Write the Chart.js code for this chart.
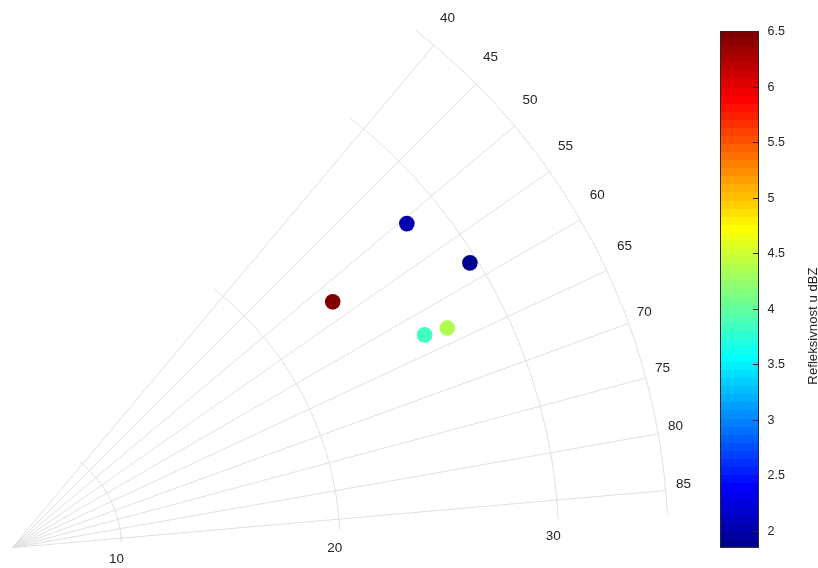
<!DOCTYPE html>
<html>
<head>
<meta charset="utf-8">
<script src="https://cdn.jsdelivr.net/npm/chart.js@4.4.1/dist/chart.umd.min.js"></script>
<style>
  html, body { margin: 0; padding: 0; background: #fff; }
  #wrap { position: relative; width: 818px; height: 568px; overflow: hidden; }
  canvas { position: absolute; top: 0; }
  #polar { left: 0; }
  #cbar { left: 700px; }
</style>
</head>
<body>
<div id="wrap">
  <canvas id="polar" width="818" height="568"></canvas>
  <canvas id="cbar" width="118" height="568"></canvas>
</div>
<script>
// Measured points: angle in degrees (clockwise from top), range, reflectivity
const pointTheta = [50.6, 58.1, 52.5, 62.7, 63.2];
const pointRange = [28.35, 29.65, 23.47, 26.22, 27.29];
const pointDbz = [2.03, 1.85, 6.5, 3.85, 4.35];

const thetaLim = [38, 87];
const thetaTicks = [40, 45, 50, 55, 60, 65, 70, 75, 80, 85];
const rangeLim = [5, 35];
const rangeTicks = [10, 20, 30];
const colorLim = [1.85, 6.5];
const colorTicks = [2, 2.5, 3, 3.5, 4, 4.5, 5, 5.5, 6, 6.5];
const colorbarLabel = 'Refleksivnost u dBZ';

const FONT = "'Liberation Sans', Arial, Helvetica, sans-serif";
const TEXT = '#262626';
const GRID = '#dfdfdf';

// polar axes placement on the page
const ORIGIN_X = 12.3;
const ORIGIN_Y = 547.7;
const PX_PER_UNIT = 656 / (rangeLim[1] - rangeLim[0]);
const W = 818, H = 568;

// MATLAB style jet(m)
const MAP_SIZE = 64;
function jetRgb(i, m) {
  const n = Math.ceil(m / 4);
  const u = [];
  for (let k = 1; k <= n; k++) u.push(k / n);
  for (let k = 1; k < n; k++) u.push(1);
  for (let k = n; k >= 1; k--) u.push(k / n);
  const off = Math.ceil(n / 2) - (m % 4 === 1 ? 1 : 0);
  const at = p => (p >= 1 && p <= u.length) ? u[p - 1] : 0;
  const idx = i + 1;
  return [at(idx - off - n), at(idx - off), at(idx - off + n)].map(c => Math.round(c * 255));
}
function jetCss(i) {
  const c = jetRgb(i, MAP_SIZE);
  return 'rgb(' + c[0] + ',' + c[1] + ',' + c[2] + ')';
}
function colorFor(v) {
  let i = Math.floor((v - colorLim[0]) / (colorLim[1] - colorLim[0]) * MAP_SIZE);
  i = Math.max(0, Math.min(MAP_SIZE - 1, i));
  return jetCss(i);
}

const toRad = t => (t - 90) * Math.PI / 180;

const polarGrid = {
  id: 'polarGrid',
  beforeDatasetsDraw(chart) {
    const ctx = chart.ctx;
    const xs = chart.scales.x, ys = chart.scales.y;
    const cx = xs.getPixelForValue(0), cy = ys.getPixelForValue(0);
    const rad = r => xs.getPixelForValue(r - rangeLim[0]) - cx;
    const outer = rad(rangeLim[1]);

    ctx.save();
    ctx.strokeStyle = GRID;
    ctx.lineWidth = 1;
    rangeTicks.concat([rangeLim[1]]).forEach(r => {
      ctx.beginPath();
      ctx.arc(cx, cy, rad(r), toRad(thetaLim[0]), toRad(thetaLim[1]));
      ctx.stroke();
    });
    thetaTicks.forEach(t => {
      ctx.beginPath();
      ctx.moveTo(cx, cy);
      ctx.lineTo(cx + outer * Math.cos(toRad(t)), cy + outer * Math.sin(toRad(t)));
      ctx.stroke();
    });

    ctx.fillStyle = TEXT;
    ctx.font = '13.5px ' + FONT;
    ctx.textAlign = 'center';
    ctx.textBaseline = 'middle';
    thetaTicks.forEach(t => {
      // upper labels sit a bit further out than the near-horizontal ones
      const upper = t <= 65;
      const a = toRad(t + (upper ? -(0.6 + (t - 40) * 0.024) : -0.4));
      const d = outer + (upper ? 29.5 - (t - 40) * 0.13 : 18.3);
      ctx.fillText(String(t), cx + d * Math.cos(a), cy + d * Math.sin(a));
    });
    rangeTicks.forEach(r => {
      const a = toRad(thetaLim[1]);
      const d = rad(r);
      ctx.fillText(String(r), cx + d * Math.cos(a) - 5, cy + d * Math.sin(a) + 17.3);
    });
    ctx.restore();
  }
};

new Chart(document.getElementById('polar'), {
  type: 'scatter',
  data: {
    datasets: [{
      data: pointTheta.map((t, i) => ({
        x: (pointRange[i] - rangeLim[0]) * Math.sin(t * Math.PI / 180),
        y: (pointRange[i] - rangeLim[0]) * Math.cos(t * Math.PI / 180),
      })),
      pointBackgroundColor: pointDbz.map(colorFor),
      pointBorderWidth: 0,
      pointRadius: 7.8,
      pointHoverRadius: 7.8,
      clip: false,
    }],
  },
  options: {
    responsive: false,
    animation: false,
    devicePixelRatio: 1,
    events: [],
    layout: { padding: 0, autoPadding: false },
    plugins: { legend: { display: false }, tooltip: { enabled: false } },
    scales: {
      x: { type: 'linear', display: false, min: -ORIGIN_X / PX_PER_UNIT, max: (W - ORIGIN_X) / PX_PER_UNIT },
      y: { type: 'linear', display: false, min: -(H - ORIGIN_Y) / PX_PER_UNIT, max: ORIGIN_Y / PX_PER_UNIT },
    },
  },
  plugins: [polarGrid],
});

// colorbar
const colorbarDecor = {
  id: 'colorbarDecor',
  afterDraw(chart) {
    const ctx = chart.ctx;
    const a = chart.chartArea;
    const ys = chart.scales.y;
    ctx.save();
    ctx.strokeStyle = TEXT;
    ctx.lineWidth = 1;
    ctx.strokeRect(a.left + 0.5, a.top + 0.5, a.right - a.left - 1, a.bottom - a.top - 1);
    ctx.fillStyle = TEXT;
    ctx.font = '12.5px ' + FONT;
    ctx.textAlign = 'left';
    ctx.textBaseline = 'middle';
    colorTicks.forEach(v => {
      const y = Math.round(ys.getPixelForValue(v)) + 0.5;
      ctx.beginPath();
      ctx.moveTo(a.right - 6, y);
      ctx.lineTo(a.right, y);
      ctx.stroke();
      ctx.fillText(String(v), a.right + 8.5, y);
    });
    ctx.translate(113, 326);
    ctx.rotate(-Math.PI / 2);
    ctx.textAlign = 'center';
    ctx.font = '13.2px ' + FONT;
    ctx.fillText(colorbarLabel, 0, 0);
    ctx.restore();
  }
};

new Chart(document.getElementById('cbar'), {
  type: 'bar',
  data: {
    labels: [''],
    datasets: [{
      data: [colorLim],
      borderWidth: 0,
      barPercentage: 1,
      categoryPercentage: 1,
      backgroundColor: function (c) {
        const a = c.chart.chartArea;
        if (!a) return '#000';
        const g = c.chart.ctx.createLinearGradient(0, a.bottom, 0, a.top);
        for (let i = 0; i < MAP_SIZE; i++) {
          g.addColorStop(i / MAP_SIZE, jetCss(i));
          g.addColorStop((i + 1) / MAP_SIZE - 1e-6, jetCss(i));
        }
        return g;
      },
    }],
  },
  options: {
    responsive: false,
    animation: false,
    devicePixelRatio: 1,
    events: [],
    layout: { padding: { left: 20, right: 59, top: 31, bottom: 20.3 }, autoPadding: false },
    plugins: { legend: { display: false }, tooltip: { enabled: false } },
    scales: {
      x: { display: false },
      y: { display: false, min: colorLim[0], max: colorLim[1] },
    },
  },
  plugins: [colorbarDecor],
});
</script>
</body>
</html>
